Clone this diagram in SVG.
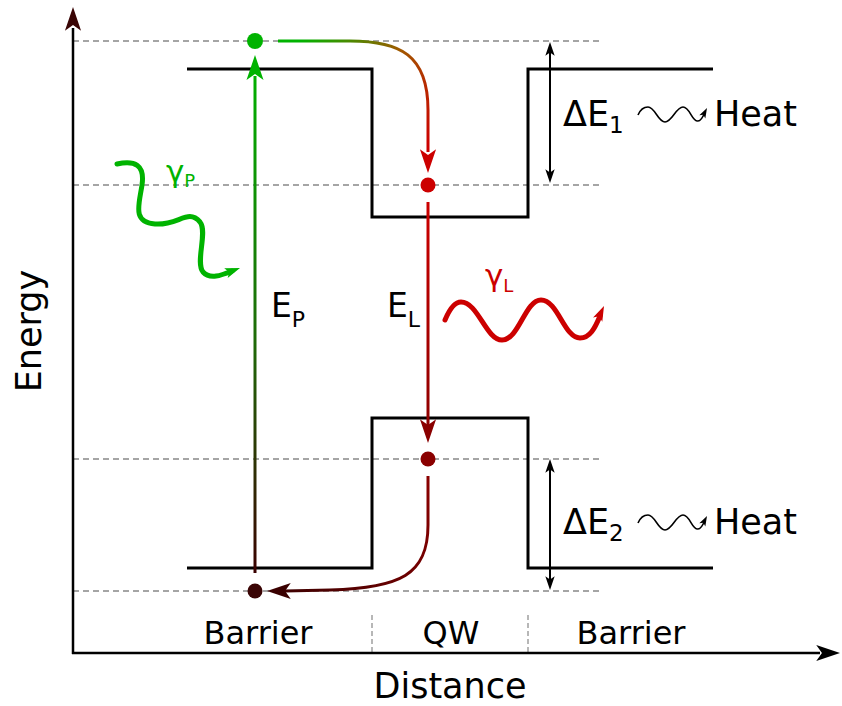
<svg xmlns="http://www.w3.org/2000/svg" xmlns:xlink="http://www.w3.org/1999/xlink" width="842" height="706" viewBox="0 0 842 706">
<style>
text{font-family:"DejaVu Sans","Verdana",sans-serif;fill:#000}
.big{font-size:35px}
.sub{font-size:23px}
.lbl{font-size:32px}
.dash{stroke:#888;stroke-width:1.5;stroke-dasharray:6,4;fill:none}
.sep{stroke:#888;stroke-width:1.2;stroke-dasharray:5,3;fill:none}
.band{stroke:#000;stroke-width:3;fill:none}
.axis{stroke:#000;stroke-width:2.5;fill:none}
.thin{stroke:#000;stroke-width:2;fill:none}
.wave{stroke-width:5;fill:none;stroke-linecap:round}
</style>
<defs>
<path id="ah" d="M0,0 L-25,-8.5 L-19,0 L-25,8.5 Z"/>
<linearGradient id="gP" gradientUnits="userSpaceOnUse" x1="0" y1="60" x2="0" y2="573">
<stop offset="0" stop-color="#00b300"/><stop offset="0.55" stop-color="#1f6a08"/><stop offset="1" stop-color="#3a0000"/>
</linearGradient>
<linearGradient id="gTop" gradientUnits="userSpaceOnUse" x1="300" y1="41" x2="428" y2="145">
<stop offset="0" stop-color="#00b300"/><stop offset="0.5" stop-color="#a05a00"/><stop offset="1" stop-color="#cc0000"/>
</linearGradient>
<linearGradient id="gL" gradientUnits="userSpaceOnUse" x1="0" y1="202" x2="0" y2="440">
<stop offset="0" stop-color="#cc0000"/><stop offset="1" stop-color="#8a0000"/>
</linearGradient>
<linearGradient id="gBot" gradientUnits="userSpaceOnUse" x1="428" y1="476" x2="270" y2="591">
<stop offset="0" stop-color="#8a0000"/><stop offset="1" stop-color="#3a0000"/>
</linearGradient>
<g id="heat">
<path d="M638,115 C641,108 645,107 648,107 C655,107 658,122 665,122 C672,122 676,107 683,107 C690,107 692,122 698,121 C701,121 703,117 705,112" stroke="#000" stroke-width="1.6" fill="none"/>
<use xlink:href="#ah" transform="translate(707,108) rotate(-62) scale(0.4)" fill="#000"/>
</g>
</defs>

<g id="guides">
<line class="dash" x1="73" y1="41" x2="602" y2="41"/>
<line class="dash" x1="73" y1="185" x2="602" y2="185"/>
<line class="dash" x1="73" y1="459" x2="602" y2="459"/>
<line class="dash" x1="73" y1="591" x2="602" y2="591"/>
<line class="sep" x1="372" y1="615" x2="372" y2="653"/>
<line class="sep" x1="528" y1="615" x2="528" y2="653"/>
</g>

<g id="axes">
<line class="axis" x1="73" y1="654" x2="73" y2="28"/>
<use xlink:href="#ah" transform="translate(73,7) rotate(-90) scale(0.95)" fill="#3a0505"/>
<line class="axis" x1="72" y1="653" x2="820" y2="653"/>
<use xlink:href="#ah" transform="translate(840,653) scale(0.95)" fill="#000"/>
<text class="big" text-anchor="middle" transform="translate(41,331) rotate(-90)">Energy</text>
<text class="big" x="450" y="698" text-anchor="middle">Distance</text>
</g>

<g id="conduction-band">
<path class="band" d="M187,69 L372,69 L372,217 L528,217 L528,69 L713,69"/>
</g>
<g id="valence-band">
<path class="band" d="M187,568 L372,568 L372,418 L528,418 L528,568 L713,568"/>
</g>

<g id="region-labels">
<text class="lbl" x="258" y="644" text-anchor="middle">Barrier</text>
<text class="lbl" x="451" y="644" text-anchor="middle">QW</text>
<text class="lbl" x="631" y="644" text-anchor="middle">Barrier</text>
</g>

<g id="states">
<circle cx="255" cy="41" r="8" fill="#00b300"/>
<circle cx="428" cy="185" r="7.5" fill="#cc0000"/>
<circle cx="428" cy="459" r="7.5" fill="#8a0000"/>
<circle cx="255" cy="591" r="7.5" fill="#3a0505"/>
</g>

<g id="connectors">
<line x1="255" y1="573" x2="255" y2="76" stroke="url(#gP)" stroke-width="3"/>
<use xlink:href="#ah" transform="translate(255,55) rotate(-90)" fill="#00b300"/>
<path d="M278,41 L350,41 C400,41 428,55 428,110 L428,152" stroke="url(#gTop)" stroke-width="3" fill="none"/>
<use xlink:href="#ah" transform="translate(428,173) rotate(90) scale(0.95)" fill="#cc0000"/>
<line x1="428" y1="202" x2="428" y2="425" stroke="url(#gL)" stroke-width="3"/>
<use xlink:href="#ah" transform="translate(428,443) rotate(90) scale(0.95)" fill="#8a0000"/>
<path d="M428,476 L428,525 C428,575 400,588 330,590 L285,591" stroke="url(#gBot)" stroke-width="3" fill="none"/>
<use xlink:href="#ah" transform="translate(267,591) rotate(180) scale(0.95)" fill="#3a0000"/>

<line class="thin" x1="550" y1="52" x2="550" y2="173"/>
<use xlink:href="#ah" transform="translate(550,42) rotate(-90) scale(0.55)" fill="#000"/>
<use xlink:href="#ah" transform="translate(550,183) rotate(90) scale(0.55)" fill="#000"/>
<line class="thin" x1="550" y1="469" x2="550" y2="580"/>
<use xlink:href="#ah" transform="translate(550,459) rotate(-90) scale(0.55)" fill="#000"/>
<use xlink:href="#ah" transform="translate(550,590) rotate(90) scale(0.55)" fill="#000"/>
</g>

<g id="photon-pump">
<path class="wave" stroke="#00b300" d="M117,164 C135,160 145,165 142,185 C139,205 132,222 155,224 C178,226 188,208 200,222 C208,232 195,262 203,272 C210,280 222,275 232,271"/>
<use xlink:href="#ah" transform="translate(240,268) rotate(-20) scale(0.6)" fill="#00b300"/>
<text x="166" y="182" font-size="31" style="fill:#00b300">γ<tspan font-size="18" dy="5">P</tspan></text>
</g>

<g id="photon-laser">
<path class="wave" stroke="#cc0000" d="M445,320 C450,308 455,302 461,302 C478,302 486,340 502,340 C519,340 525,300 541,300 C558,300 564,338 580,338 C590,338 595,328 600,316"/>
<use xlink:href="#ah" transform="translate(604,306) rotate(-65) scale(0.6)" fill="#cc0000"/>
<text x="485" y="286" font-size="31" style="fill:#cc0000">γ<tspan font-size="18" dy="6">L</tspan></text>
</g>

<g id="energy-labels">
<text x="271" y="317" font-size="33">E<tspan font-size="22" dy="10">P</tspan></text>
<text x="387" y="317" font-size="33">E<tspan font-size="22" dy="10">L</tspan></text>
</g>

<g id="heat-1">
<text class="big" x="563" y="126">ΔE<tspan class="sub" dy="7">1</tspan></text>
<use xlink:href="#heat"/>
<text class="big" x="714" y="126">Heat</text>
</g>
<g id="heat-2">
<text class="big" x="563" y="534">ΔE<tspan class="sub" dy="7">2</tspan></text>
<use xlink:href="#heat" transform="translate(0,408)"/>
<text class="big" x="714" y="534">Heat</text>
</g>
</svg>
